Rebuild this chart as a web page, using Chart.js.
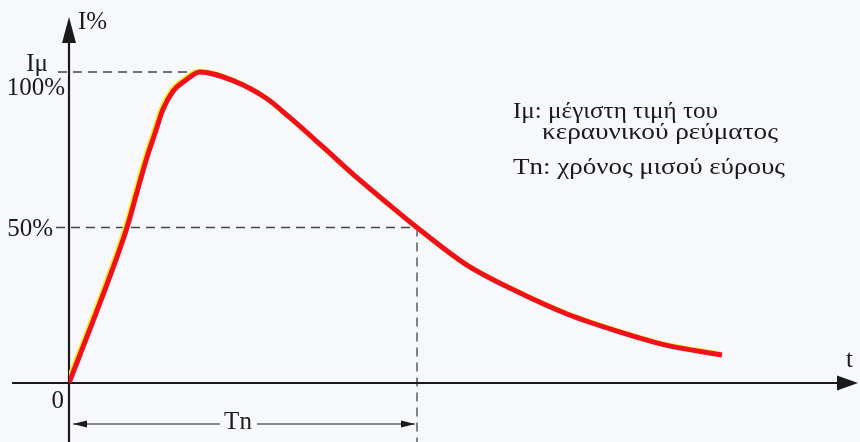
<!DOCTYPE html>
<html>
<head>
<meta charset="utf-8">
<script src="https://cdn.jsdelivr.net/npm/chart.js@4.4.1/dist/chart.umd.min.js"></script>
<style>
  html, body { margin: 0; padding: 0; background: #f6f8fb; }
  #wrap { width: 860px; height: 442px; }
</style>
</head>
<body>
<div id="wrap"><canvas id="chart" width="860" height="442"></canvas></div>
<script>
// time (arbitrary units) and current in % of peak
const timeValues = [0, 3.3, 5.8, 6.8, 7.8, 8.6, 9.4, 10.4, 11.6, 13.1, 16.4, 19.8, 22.1, 25.4, 28.8, 32.1, 34.8, 39.8, 44.8, 49.8, 54.8, 59.8, 65.3];
const currentValues = [0, 27.5, 50, 61.4, 72.6, 80.3, 88.0, 93.8, 97.2, 100, 97.2, 91.4, 85.3, 75.9, 66.0, 57.1, 50, 37.9, 29.4, 22.2, 16.7, 12.1, 9.0];

const peakTime = 13.1;     // time of Iμ
const halfTime = 34.8;     // Tn, half value on the tail
const yTickValues = [100, 50];
const yTickLabels = ['100%', '50%'];

const legendLines = [
    { text: 'Iμ: μέγιστη τιμή του', x: 513, y: 118, w: 205 },
    { text: 'κεραυνικού ρεύματος', x: 542, y: 139, w: 236 },
    { text: 'Tn: χρόνος μισού εύρους', x: 513, y: 174, w: 272 }
];

const serif = '"Liberation Serif", "DejaVu Serif", serif';
const ink = '#1a1a1a';

function dashedLine(ctx, x1, y1, x2, y2) {
    ctx.save();
    ctx.strokeStyle = '#444';
    ctx.lineWidth = 1.3;
    ctx.setLineDash([9, 6]);
    ctx.beginPath();
    ctx.moveTo(x1, y1);
    ctx.lineTo(x2, y2);
    ctx.stroke();
    ctx.restore();
}

function arrowHead(ctx, tipX, tipY, dx, dy, len, half) {
    // dx,dy = unit direction of the arrow
    const bx = tipX - dx * len, by = tipY - dy * len;
    ctx.beginPath();
    ctx.moveTo(tipX, tipY);
    ctx.lineTo(bx - dy * half, by + dx * half);
    ctx.lineTo(bx + dy * half, by - dx * half);
    ctx.closePath();
    ctx.fill();
}

const backdrop = {
    id: 'backdrop',
    beforeDraw(chart) {
        const ctx = chart.ctx;
        ctx.save();
        ctx.fillStyle = '#f6f8fb';
        ctx.fillRect(0, 0, chart.width, chart.height);
        ctx.restore();

        const xs = chart.scales.x, ys = chart.scales.y;
        const x0 = xs.getPixelForValue(0), y0 = ys.getPixelForValue(0);
        const xPeak = xs.getPixelForValue(peakTime);
        const xHalf = xs.getPixelForValue(halfTime);
        const yFull = ys.getPixelForValue(100), yHalf = ys.getPixelForValue(50);

        // guide lines
        dashedLine(ctx, x0 - 11, yFull, xPeak, yFull);
        dashedLine(ctx, x0 - 13, yHalf, xHalf, yHalf);
        dashedLine(ctx, xHalf, yHalf, xHalf, chart.height);

        // axes
        ctx.save();
        ctx.strokeStyle = ink;
        ctx.fillStyle = ink;
        ctx.lineWidth = 2.2;
        ctx.beginPath();
        ctx.moveTo(12, y0);
        ctx.lineTo(chart.width - 10, y0);
        ctx.moveTo(x0, chart.height);
        ctx.lineTo(x0, 30);
        ctx.stroke();
        arrowHead(ctx, 858, y0, 1, 0, 21, 7.5);
        arrowHead(ctx, x0, 17, 0, -1, 26, 7);

        // Tn dimension line
        const yDim = y0 + 41;
        ctx.lineWidth = 1.2;
        ctx.beginPath();
        ctx.moveTo(x0 + 4, yDim);
        ctx.lineTo(220, yDim);
        ctx.moveTo(257, yDim);
        ctx.lineTo(xHalf - 2, yDim);
        ctx.stroke();
        arrowHead(ctx, x0 + 4, yDim, -1, 0, 14, 3.5);
        arrowHead(ctx, xHalf - 2, yDim, 1, 0, 14, 3.5);
        ctx.restore();
    },
    afterDraw(chart) {
        const ctx = chart.ctx;
        const xs = chart.scales.x, ys = chart.scales.y;
        const x0 = xs.getPixelForValue(0), y0 = ys.getPixelForValue(0);
        ctx.save();
        ctx.fillStyle = ink;
        ctx.textBaseline = 'alphabetic';

        ctx.font = '25px ' + serif;
        ctx.textAlign = 'right';
        yTickValues.forEach((v, i) => {
            const y = ys.getPixelForValue(v);
            if (v === 100) ctx.fillText(yTickLabels[i], x0 - 4, y + 23);
            else ctx.fillText(yTickLabels[i], x0 - 16, y + 9);
        });
        ctx.fillText('Iμ', x0 - 21, ys.getPixelForValue(100) - 1);
        ctx.fillText('0', x0 - 5, y0 + 25);

        ctx.textAlign = 'left';
        ctx.fillText('I%', x0 + 9, 29);
        ctx.fillText('t', 846, y0 - 16);
        ctx.textAlign = 'center';
        ctx.fillText('Tn', 238, y0 + 46);

        // note text, stretched a little to the width of the original lettering
        ctx.textAlign = 'left';
        ctx.font = '23px ' + serif;
        legendLines.forEach(l => {
            const k = l.w / ctx.measureText(l.text).width;
            ctx.save();
            ctx.translate(l.x, l.y);
            ctx.scale(k, 1);
            ctx.fillText(l.text, 0, 0);
            ctx.restore();
        });
        ctx.restore();
    },
    beforeDatasetDraw(chart) {
        const ctx = chart.ctx;
        ctx.save();
        ctx.shadowColor = 'rgb(250, 236, 40)';
        ctx.shadowBlur = 0;
        ctx.shadowOffsetX = -1.4;
        ctx.shadowOffsetY = -1;
    },
    afterDatasetDraw(chart) {
        chart.ctx.restore();
    }
};

new Chart(document.getElementById('chart').getContext('2d'), {
    type: 'line',
    data: {
        datasets: [{
            label: 'I%',
            data: timeValues.map((t, i) => ({ x: t, y: currentValues[i] })),
            borderColor: 'rgb(240, 16, 28)',
            borderWidth: 5,
            borderCapStyle: 'butt',
            borderJoinStyle: 'round',
            pointRadius: 0,
            cubicInterpolationMode: 'monotone',
            fill: false
        }]
    },
    options: {
        responsive: false,
        animation: false,
        events: [],
        layout: { padding: { left: 69, right: 1, top: 16, bottom: 59 } },
        plugins: { legend: { display: false }, tooltip: { enabled: false } },
        scales: {
            x: { type: 'linear', min: 0, max: 79, display: false },
            y: { type: 'linear', min: 0, max: 118, display: false }
        }
    },
    plugins: [backdrop]
});
</script>
</body>
</html>
